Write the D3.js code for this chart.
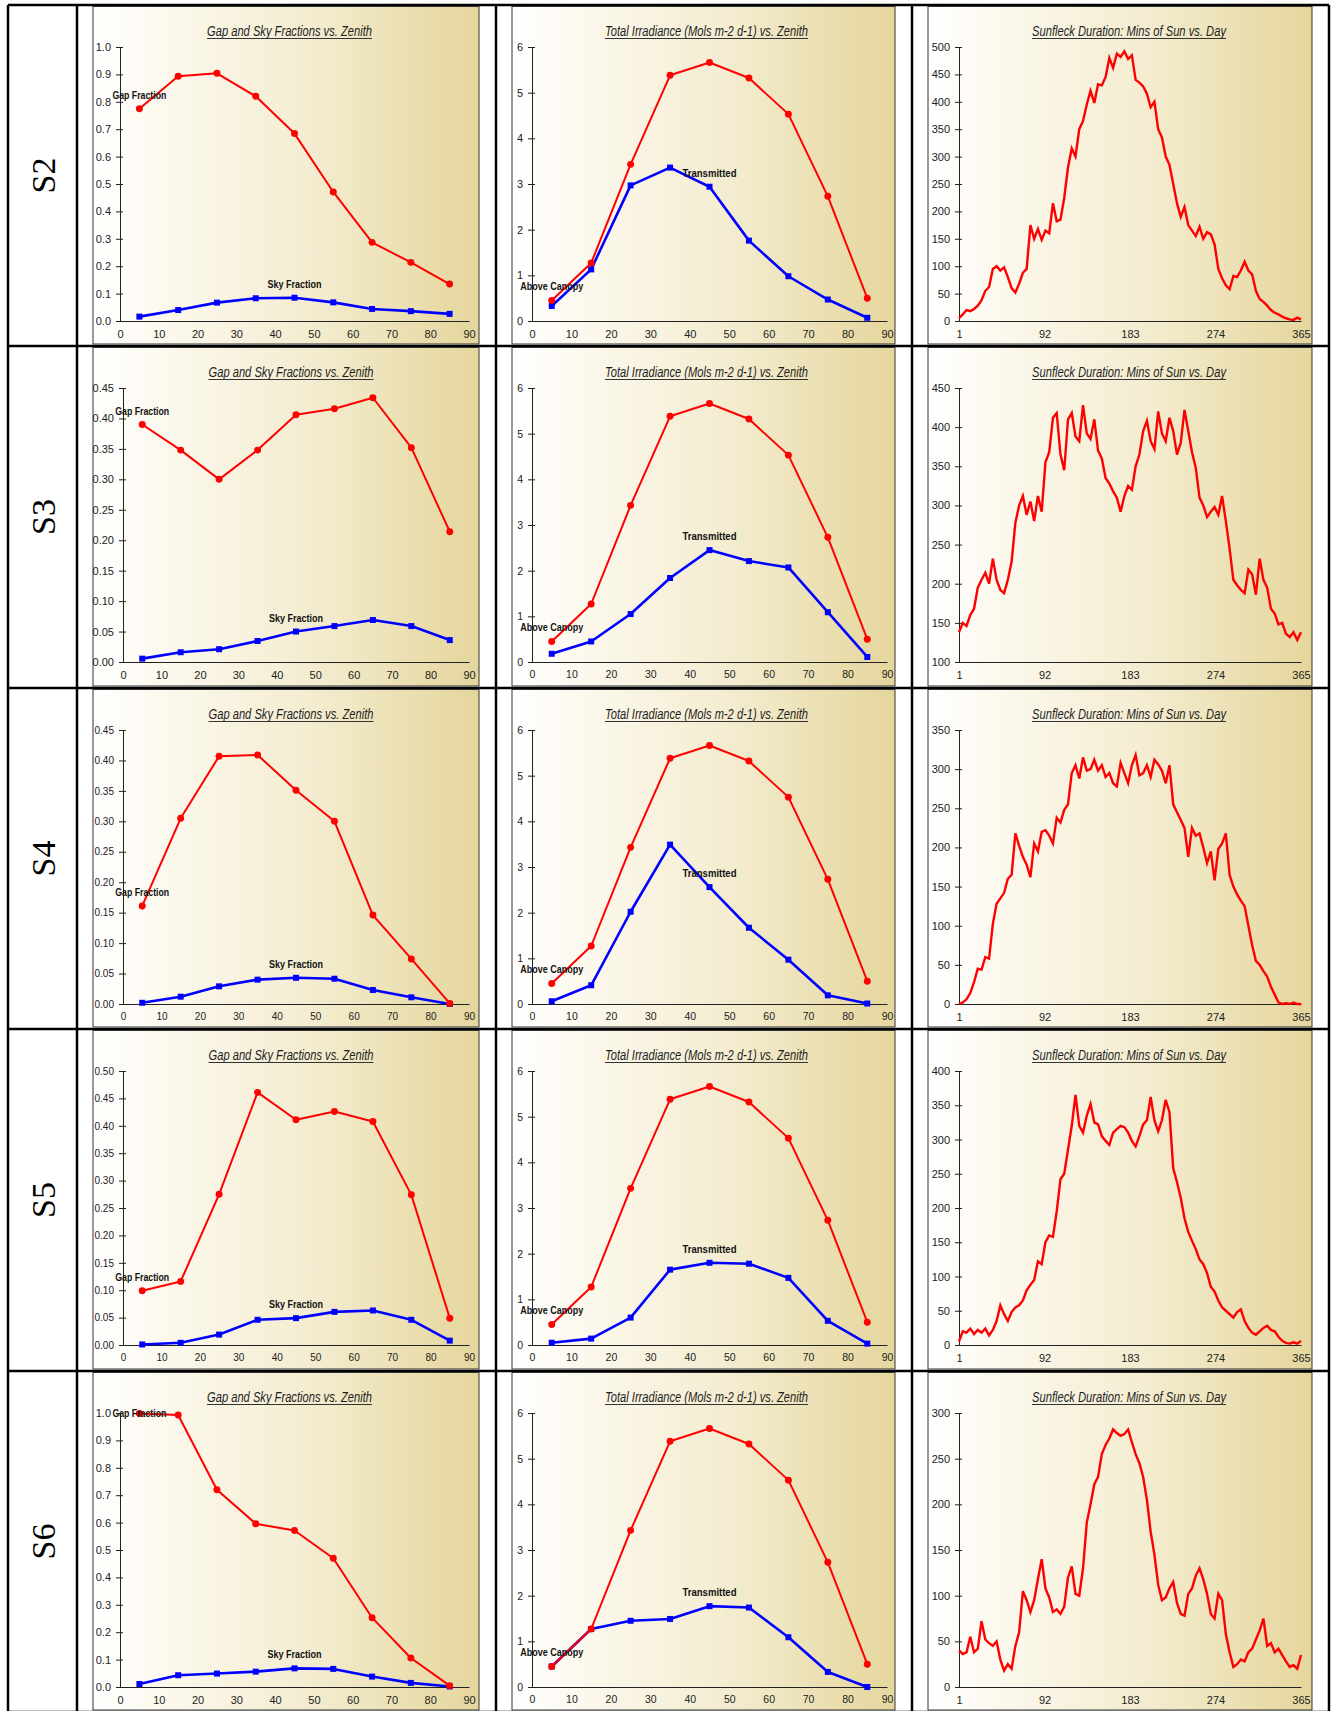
<!DOCTYPE html>
<html>
<head>
<meta charset="utf-8">
<script src="https://cdn.jsdelivr.net/npm/d3@7"></script>
<style>
  body { margin: 0; background: #fff; }
  svg { display: block; }
</style>
</head>
<body>
<svg id="sheet" width="1336" height="1711"></svg>
<script>
// ---- data -------------------------------------------------------------
const siteNames = ["S2", "S3", "S4", "S5", "S6"];

const zenith = [5, 15, 25, 35, 45, 55, 65, 75, 85];
const zenithTicks = [0, 10, 20, 30, 40, 50, 60, 70, 80, 90];
const dayTicks = [1, 92, 183, 274, 365];
const sunDays = d3.range(1, 366, 4);           // every 4th day, 1 .. 365

// irradiance above the canopy is the same for every site
const aboveCanopy = [0.45, 1.27, 3.43, 5.38, 5.66, 5.32, 4.53, 2.73, 0.50];

const gapS2 = [0.775, 0.893, 0.904, 0.820, 0.684, 0.471, 0.287, 0.214, 0.135];
const gapS3 = [0.390, 0.348, 0.300, 0.348, 0.406, 0.416, 0.434, 0.352, 0.214];
const gapS4 = [0.161, 0.305, 0.407, 0.409, 0.351, 0.300, 0.146, 0.074, 0.001];
const gapS5 = [0.099, 0.116, 0.275, 0.461, 0.411, 0.426, 0.408, 0.274, 0.049];
const gapS6 = [0.998, 0.993, 0.720, 0.596, 0.571, 0.470, 0.253, 0.106, 0.005];

const skyS2 = [0.016, 0.040, 0.067, 0.083, 0.085, 0.068, 0.044, 0.036, 0.026];
const skyS3 = [0.0055, 0.016, 0.021, 0.0345, 0.050, 0.059, 0.069, 0.059, 0.036];
const skyS4 = [0.002, 0.012, 0.029, 0.040, 0.043, 0.0415, 0.023, 0.011, 0.000];
const skyS5 = [0.001, 0.004, 0.019, 0.046, 0.049, 0.0605, 0.063, 0.046, 0.008];
const skyS6 = [0.011, 0.043, 0.049, 0.056, 0.068, 0.066, 0.038, 0.015, 0.002];

const transS2 = [0.33, 1.13, 2.97, 3.36, 2.94, 1.76, 0.98, 0.47, 0.07];
const transS3 = [0.18, 0.45, 1.05, 1.84, 2.45, 2.21, 2.07, 1.09, 0.11];
const transS4 = [0.06, 0.41, 2.02, 3.49, 2.56, 1.67, 0.97, 0.19, 0.01];
const transS5 = [0.05, 0.14, 0.60, 1.65, 1.80, 1.78, 1.47, 0.53, 0.03];
const transS6 = [0.45, 1.27, 1.45, 1.49, 1.77, 1.74, 1.09, 0.33, 0.00];

// sunfleck minutes of sun, sampled on sunDays
const sunS2 = [5, 12, 20, 18, 22, 28, 38, 55, 62, 95, 100, 92, 98, 80, 60, 52, 68, 88, 95, 175,
  150, 168, 148, 165, 160, 215, 182, 185, 225, 280, 315, 300, 350, 365, 395, 420, 398, 432, 430, 445,
  480, 462, 488, 482, 492, 478, 485, 440, 435, 428, 415, 390, 400, 350, 335, 300, 285, 250, 215, 190,
  208, 175, 165, 155, 172, 150, 162, 158, 140, 95, 78, 65, 58, 82, 80, 92, 108, 92, 85, 55,
  40, 35, 28, 20, 15, 12, 8, 5, 3, 2, 6, 3];
const sunS3 = [138, 150, 146, 160, 168, 195, 205, 214, 200, 232, 205, 192, 188, 205, 228, 278, 300, 312, 288, 305,
  280, 312, 292, 355, 368, 412, 418, 365, 345, 410, 418, 388, 382, 428, 392, 385, 410, 370, 360, 335,
  328, 318, 310, 292, 312, 325, 320, 350, 365, 395, 408, 382, 372, 420, 392, 382, 412, 395, 365, 380,
  422, 395, 368, 348, 310, 300, 285, 292, 298, 288, 312, 280, 245, 205, 198, 192, 188, 218, 212, 186,
  232, 205, 195, 168, 162, 148, 150, 136, 132, 138, 128, 138];
const sunS4 = [0, 2, 6, 14, 28, 45, 44, 60, 58, 102, 128, 135, 142, 160, 165, 218, 202, 188, 178, 162,
  205, 195, 220, 222, 215, 205, 238, 232, 248, 255, 295, 305, 288, 315, 298, 300, 312, 298, 305, 290,
  295, 282, 278, 308, 295, 282, 305, 318, 292, 295, 305, 290, 312, 306, 298, 282, 305, 255, 245, 235,
  225, 188, 225, 215, 218, 200, 180, 195, 158, 198, 205, 218, 165, 150, 140, 132, 125, 100, 75, 55,
  50, 42, 35, 22, 12, 2, 0, 1, 0, 2, 0, 0];
const sunS5 = [5, 20, 18, 24, 16, 22, 18, 24, 14, 22, 35, 58, 45, 35, 48, 55, 58, 65, 80, 88,
  95, 122, 118, 150, 160, 158, 195, 242, 250, 285, 320, 365, 320, 310, 335, 352, 325, 322, 305, 298,
  292, 310, 315, 320, 318, 310, 298, 290, 305, 322, 328, 362, 328, 312, 328, 358, 340, 258, 238, 215,
  185, 165, 152, 140, 125, 118, 105, 85, 78, 65, 55, 50, 45, 40, 48, 52, 35, 25, 18, 15,
  20, 25, 28, 22, 20, 12, 6, 3, 2, 4, 2, 6];
const sunS6 = [40, 36, 38, 55, 38, 42, 72, 52, 48, 45, 50, 30, 18, 25, 20, 45, 60, 105, 95, 82,
  95, 118, 140, 108, 98, 82, 85, 80, 88, 120, 132, 102, 100, 130, 180, 200, 222, 230, 255, 265,
  272, 282, 278, 275, 277, 282, 268, 255, 245, 230, 205, 170, 145, 112, 95, 98, 108, 115, 92, 80,
  78, 102, 108, 122, 130, 118, 102, 80, 75, 102, 95, 58, 38, 22, 25, 30, 28, 38, 42, 52,
  62, 75, 45, 48, 38, 42, 35, 28, 22, 24, 20, 35];

// per-site axis ranges
const fracMax  = [1.0, 0.45, 0.45, 0.50, 1.0];
const fracStep = [0.1, 0.05, 0.05, 0.05, 0.1];
const sunMin   = [0, 100, 0, 0, 0];
const sunMax   = [500, 450, 350, 400, 300];

const gapFraction = [gapS2, gapS3, gapS4, gapS5, gapS6];
const skyFraction = [skyS2, skyS3, skyS4, skyS5, skyS6];
const transmitted = [transS2, transS3, transS4, transS5, transS6];
const sunfleck    = [sunS2, sunS3, sunS4, sunS5, sunS6];

// ---- layout -------------------------------------------------------------
const colX = [8, 77, 496, 912, 1329];
const rowY = [5, 346, 688, 1029, 1371, 1712];

const RED = "#ff0000", BLUE = "#0000ff";
const NARROW = '"Liberation Sans Narrow","Arial Narrow","Liberation Sans",Arial,sans-serif';
const PLAIN = '"Liberation Sans",Arial,sans-serif';

const svg = d3.select("#sheet");

// chart panel background: white fading to khaki on the right
const grad = svg.append("defs").append("linearGradient")
  .attr("id", "panelFill").attr("x1", 0).attr("y1", 0).attr("x2", 1).attr("y2", 0);
grad.append("stop").attr("offset", "0%").attr("stop-color", "#ffffff");
grad.append("stop").attr("offset", "22%").attr("stop-color", "#fbf7ea");
grad.append("stop").attr("offset", "55%").attr("stop-color", "#f4edd2");
grad.append("stop").attr("offset", "100%").attr("stop-color", "#e5d69c");

const fracLabelFont = [
  [NARROW, NARROW, PLAIN, PLAIN, NARROW],   // gap/sky column
  [NARROW, PLAIN, PLAIN, PLAIN, PLAIN],     // irradiance column
  [NARROW, NARROW, NARROW, NARROW, NARROW]  // sunfleck column
];

function panel(c, r) {
  const x0 = colX[c + 1] + 16, x1 = colX[c + 2] - 17;
  const y0 = rowY[r] + 1.5, y1 = rowY[r + 1] - 2;
  svg.append("rect").attr("x", x0).attr("y", y0)
    .attr("width", x1 - x0).attr("height", y1 - y0)
    .attr("fill", "url(#panelFill)").attr("stroke", "#333").attr("stroke-width", 1);
  return { x0, x1, y0, y1 };
}

function title(text, cx, r, width) {
  const y = rowY[r] + 31;
  svg.append("text").attr("x", cx).attr("y", y)
    .attr("text-anchor", "middle")
    .attr("font-family", NARROW).attr("font-style", "italic")
    .attr("font-size", 14).attr("fill", "#1e1e1e")
    .attr("textLength", width).attr("lengthAdjust", "spacingAndGlyphs")
    .text(text);
  svg.append("line").attr("x1", cx - width / 2).attr("x2", cx + width / 2)
    .attr("y1", y + 2.5).attr("y2", y + 2.5)
    .attr("stroke", "#333").attr("stroke-width", 1);
}

function axes(g, x, y, xTicks, yTicks, yFmt, font, fontSize) {
  const left = x.range()[0], bottom = y.range()[0];
  const ya = g.append("g").attr("transform", `translate(${left},0)`)
    .call(d3.axisLeft(y).tickValues(yTicks).tickFormat(yFmt)
      .tickSizeInner(4).tickSizeOuter(0).tickPadding(5));
  ya.selectAll(".tick line").attr("x1", 3);
  const xa = g.append("g").attr("transform", `translate(0,${bottom})`)
    .call(d3.axisBottom(x).tickValues(xTicks).tickSize(0).tickPadding(9));
  [ya, xa].forEach(a => {
    a.select(".domain").attr("stroke", "#222");
    a.selectAll(".tick line").attr("stroke", "#222");
    a.selectAll("text").attr("font-family", font).attr("font-size", fontSize).attr("fill", "#222");
  });
}

function series(g, x, y, vals, color, width, symbol, size) {
  const pts = zenith.map((z, i) => [z, vals[i]]);
  g.append("path").datum(pts)
    .attr("fill", "none").attr("stroke", color).attr("stroke-width", width)
    .attr("stroke-linejoin", "round")
    .attr("d", d3.line().x(d => x(d[0])).y(d => y(d[1])));
  g.selectAll(null).data(pts).join("path")
    .attr("transform", d => `translate(${x(d[0])},${y(d[1])})`)
    .attr("d", d3.symbol().type(symbol).size(size))
    .attr("fill", color);
}

function pointLabel(g, text, px, py, top, width) {
  const cy = Math.max(py - 14, top);
  g.append("text").attr("x", px).attr("y", cy + 4)
    .attr("text-anchor", "middle")
    .attr("font-family", NARROW).attr("font-weight", "bold")
    .attr("font-size", 11).attr("fill", "#111")
    .attr("textLength", width).attr("lengthAdjust", "spacingAndGlyphs")
    .text(text);
}

// ---- table grid and row labels ------------------------------------------
const grid = svg.append("g").attr("stroke", "#000").attr("stroke-width", 2.5);
colX.forEach(cx => grid.append("line").attr("x1", cx).attr("x2", cx)
  .attr("y1", rowY[0]).attr("y2", rowY[rowY.length - 1]));
rowY.forEach(ry => grid.append("line").attr("x1", colX[0]).attr("x2", colX[colX.length - 1])
  .attr("y1", ry).attr("y2", ry));

siteNames.forEach((name, r) => {
  const cx = (colX[0] + colX[1]) / 2 + 1, cy = (rowY[r] + rowY[r + 1]) / 2;
  svg.append("text")
    .attr("transform", `translate(${cx},${cy}) rotate(-90)`)
    .attr("text-anchor", "middle").attr("dy", "0.35em")
    .attr("font-family", '"Liberation Serif","Times New Roman",serif')
    .attr("font-size", 34).attr("fill", "#000")
    .text(name);
});

// ---- charts ---------------------------------------------------------------
siteNames.forEach((name, r) => {
  const top = rowY[r] + 42, bottom = rowY[r] + 316;

  // gap and sky fractions
  {
    const p = panel(0, r);
    const twoDec = fracStep[r] < 0.1;
    const x = d3.scaleLinear().domain([0, 90]).range([p.x0 + (twoDec ? 30 : 27), p.x0 + 376]);
    const y = d3.scaleLinear().domain([0, fracMax[r]]).range([bottom, top]);
    const n = Math.round(fracMax[r] / fracStep[r]);
    const yTicks = d3.range(n + 1).map(i => +(i * fracStep[r]).toFixed(2));
    const g = svg.append("g");
    title("Gap and Sky Fractions vs. Zenith", (x.range()[0] + x.range()[1]) / 2 - 5, r, 165);
    const f = fracLabelFont[0][r];
    axes(g, x, y, zenithTicks, yTicks, d3.format(twoDec ? ".2f" : ".1f"), f, f === NARROW ? 11 : 10);
    series(g, x, y, skyFraction[r], BLUE, 2.6, d3.symbolSquare, 36);
    series(g, x, y, gapFraction[r], RED, 2, d3.symbolCircle, 38);
    pointLabel(g, "Gap Fraction", x(zenith[0]), y(gapFraction[r][0]), top, 54);
    pointLabel(g, "Sky Fraction", x(zenith[4]), y(skyFraction[r][4]), top, 54);
  }

  // total irradiance
  {
    const p = panel(1, r);
    const x = d3.scaleLinear().domain([0, 90]).range([p.x0 + 20, p.x0 + 375]);
    const y = d3.scaleLinear().domain([0, 6]).range([bottom, top]);
    const g = svg.append("g");
    title("Total Irradiance (Mols m-2 d-1) vs. Zenith", (x.range()[0] + x.range()[1]) / 2 - 3, r, 203);
    const f = fracLabelFont[1][r];
    axes(g, x, y, zenithTicks, d3.range(0, 7), d3.format("d"), f, f === NARROW ? 11 : 10.5);
    series(g, x, y, transmitted[r], BLUE, 2.6, d3.symbolSquare, 36);
    series(g, x, y, aboveCanopy, RED, 2, d3.symbolCircle, 38);
    pointLabel(g, "Above Canopy", x(zenith[0]), y(aboveCanopy[0]), top, 63);
    pointLabel(g, "Transmitted", x(zenith[4]), y(transmitted[r][4]), top, 54);
  }

  // sunfleck duration
  {
    const p = panel(2, r);
    const x = d3.scaleLinear().domain([1, 365]).range([p.x0 + 31, p.x0 + 373]);
    const y = d3.scaleLinear().domain([sunMin[r], sunMax[r]]).range([bottom, top]);
    const g = svg.append("g");
    title("Sunfleck Duration: Mins of Sun vs. Day", (x.range()[0] + x.range()[1]) / 2 - 1, r, 194);
    axes(g, x, y, dayTicks, d3.range(sunMin[r], sunMax[r] + 1, 50), d3.format("d"), NARROW, 11);
    g.append("path").datum(sunDays.map((d, i) => [d, sunfleck[r][i]]))
      .attr("fill", "none").attr("stroke", RED).attr("stroke-width", 2.4)
      .attr("stroke-linejoin", "miter")
      .attr("d", d3.line().x(d => x(d[0])).y(d => y(d[1])));
  }
});
</script>
</body>
</html>
